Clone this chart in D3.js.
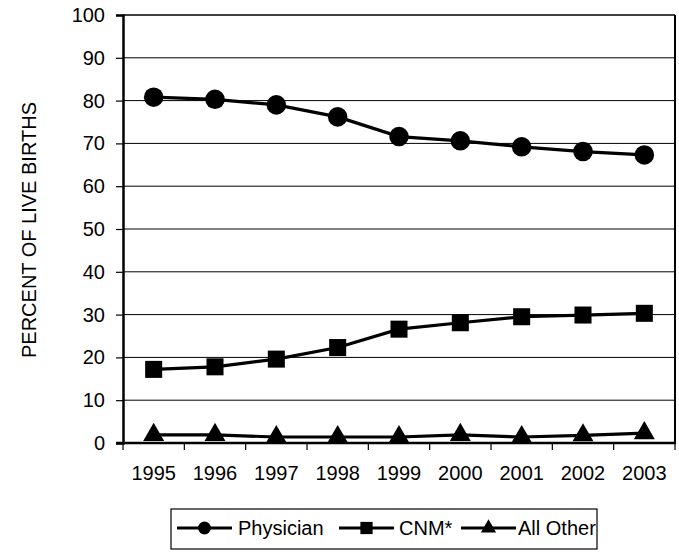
<!DOCTYPE html>
<html><head><meta charset="utf-8">
<script src="https://cdn.jsdelivr.net/npm/d3@7"></script>
<style>body{margin:0;background:#fff}svg{display:block;font-family:"Liberation Sans",Arial,sans-serif}</style>
</head><body><svg id="c" width="679" height="552"></svg>
<script>
const years = ["1995","1996","1997","1998","1999","2000","2001","2002","2003"];
const physician = [80.8, 80.3, 79.0, 76.2, 71.6, 70.6, 69.2, 68.1, 67.3];
const cnm = [17.2, 17.8, 19.6, 22.3, 26.6, 28.1, 29.5, 29.9, 30.3];
const allOther = [1.9, 1.9, 1.4, 1.4, 1.4, 1.9, 1.4, 1.8, 2.3];
const yTicks = [0,10,20,30,40,50,60,70,80,90,100];
const seriesNames = ["Physician","CNM*","All Other"];

const svg = d3.select("#c");
const L=123, R=675, T=15, B=443;
const x = d3.scaleBand().domain(years).range([L,R]);
const y = d3.scaleLinear().domain([0,100]).range([B,T]);
const fs = 20;

// gridlines
svg.append("g").selectAll("line").data(yTicks.filter(d=>d>0)).join("line")
  .attr("x1",L).attr("x2",R).attr("y1",d=>y(d)).attr("y2",d=>y(d))
  .attr("stroke","#000").attr("stroke-width",d=>d===100?1.6:1);
// right border
svg.append("line").attr("x1",R).attr("x2",R).attr("y1",T).attr("y2",B).attr("stroke","#000").attr("stroke-width",2);

// y axis
const ya = svg.append("g").attr("transform",`translate(${L},0)`)
  .call(d3.axisLeft(y).tickValues(yTicks).tickSize(7).tickPadding(11));
ya.select(".domain").attr("stroke-width",2.5);
ya.selectAll("text").attr("font-size",fs).attr("font-family","Liberation Sans, Arial").attr("fill","#000");
ya.selectAll(".tick line").attr("stroke-width",1.2);

// x axis
const xa = svg.append("g").attr("transform",`translate(0,${B})`)
  .call(d3.axisBottom(x).tickSize(0).tickPadding(23));
xa.select(".domain").remove();
xa.selectAll("text").attr("font-size",fs).attr("font-family","Liberation Sans, Arial").attr("fill","#000").attr("dy","0.71em");
svg.append("line").attr("x1",L-7).attr("x2",R+1).attr("y1",B).attr("y2",B).attr("stroke","#000").attr("stroke-width",2.5);
const bounds = years.map(d=>x(d)).concat([R]);
svg.append("g").selectAll("line").data(bounds).join("line")
  .attr("x1",d=>d).attr("x2",d=>d).attr("y1",B).attr("y2",B+7).attr("stroke","#000").attr("stroke-width",1.2);

// y title
svg.append("text").attr("transform","translate(36,230) rotate(-90)").attr("text-anchor","middle")
  .attr("font-size",fs).attr("fill","#000").text("PERCENT OF LIVE BIRTHS");

const cx = d=>x(d)+x.bandwidth()/2;
const line = d3.line().x((d,i)=>cx(years[i])).y(d=>y(d));
const data = [physician,cnm,allOther];
const shapes = [d3.symbolCircle,d3.symbolSquare,d3.symbolTriangle];
const sizes = [300,290,190];
data.forEach((s,k)=>{
  svg.append("path").datum(s).attr("d",line).attr("fill","none").attr("stroke","#000").attr("stroke-width",3.2);
  svg.append("g").selectAll("path").data(s).join("path")
    .attr("transform",(d,i)=>`translate(${cx(years[i])},${y(d)})`)
    .attr("d",d3.symbol().type(shapes[k]).size(sizes[k])).attr("fill","#000");
});

// legend
const lg = svg.append("g");
lg.append("rect").attr("x",171).attr("y",509).attr("width",426).attr("height",40).attr("fill","none").attr("stroke","#000").attr("stroke-width",1.2);
const lx = [177, 339, 461];
const tx = [238, 399, 518];
const ly = 528;
const lsizes=[130,150,100];
seriesNames.forEach((n,k)=>{
  lg.append("line").attr("x1",lx[k]).attr("x2",lx[k]+55).attr("y1",ly).attr("y2",ly).attr("stroke","#000").attr("stroke-width",3);
  lg.append("path").attr("transform",`translate(${lx[k]+27.5},${ly})`).attr("d",d3.symbol().type(shapes[k]).size(lsizes[k])).attr("fill","#000");
  lg.append("text").attr("x",tx[k]).attr("y",ly).attr("dy","0.35em").attr("font-size",fs).attr("fill","#000").text(n);
});
</script></body></html>
